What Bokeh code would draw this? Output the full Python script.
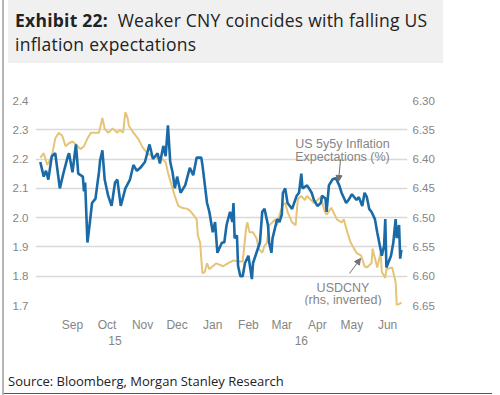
import pandas as pd
from bokeh.plotting import figure
from bokeh.layouts import column
from bokeh.models import (Range1d, LinearAxis, DatetimeAxis, FixedTicker, NumeralTickFormatter,
                          DatetimeTickFormatter, Label, Arrow, NormalHead, ColumnDataSource, Div)
from bokeh.embed import file_html
from bokeh.resources import INLINE

# ---------------- data ----------------
blue_dates = [
    "2015-08-18", "2015-08-21", "2015-08-23", "2015-08-25", "2015-08-28", "2015-08-31",
    "2015-09-04", "2015-09-07", "2015-09-11", "2015-09-12", "2015-09-15", "2015-09-18",
    "2015-09-20", "2015-09-24", "2015-09-25", "2015-09-26", "2015-09-28", "2015-09-30",
    "2015-10-02", "2015-10-05", "2015-10-08", "2015-10-09", "2015-10-11", "2015-10-13",
    "2015-10-16", "2015-10-19", "2015-10-22", "2015-10-24", "2015-10-27", "2015-10-31",
    "2015-11-04", "2015-11-07", "2015-11-10", "2015-11-13", "2015-11-17", "2015-11-21",
    "2015-11-24", "2015-11-28", "2015-11-30",
    "2015-12-03", "2015-12-05", "2015-12-07", "2015-12-09", "2015-12-11", "2015-12-13",
    "2015-12-15", "2015-12-18", "2015-12-22", "2015-12-26", "2015-12-29",
    "2016-01-01", "2016-01-05", "2016-01-06", "2016-01-10", "2016-01-12", "2016-01-15",
    "2016-01-17", "2016-01-19", "2016-01-23", "2016-01-25", "2016-01-27", "2016-01-30",
    "2016-02-01", "2016-02-02", "2016-02-03", "2016-02-05", "2016-02-06", "2016-02-08",
    "2016-02-10", "2016-02-12", "2016-02-15", "2016-02-18", "2016-02-19", "2016-02-22",
    "2016-02-25", "2016-02-27", "2016-02-29",
    "2016-03-03", "2016-03-04", "2016-03-06", "2016-03-07", "2016-03-11", "2016-03-13",
    "2016-03-15", "2016-03-16", "2016-03-18", "2016-03-20", "2016-03-24", "2016-03-28",
    "2016-03-30",
    "2016-04-01", "2016-04-02", "2016-04-06", "2016-04-10", "2016-04-12", "2016-04-15",
    "2016-04-18", "2016-04-19", "2016-04-22", "2016-04-23", "2016-04-25", "2016-04-28",
    "2016-05-01", "2016-05-04", "2016-05-06", "2016-05-10", "2016-05-12", "2016-05-15",
    "2016-05-19", "2016-05-21", "2016-05-24", "2016-05-26", "2016-05-28", "2016-05-30",
    "2016-06-01", "2016-06-04", "2016-06-06", "2016-06-08", "2016-06-10", "2016-06-12",
    "2016-06-13", "2016-06-14", "2016-06-18", "2016-06-20", "2016-06-22", "2016-06-23",
    "2016-06-25", "2016-06-26", "2016-06-27",
]
us5y5y = [
    2.19, 2.14, 2.16, 2.13, 2.21, 2.22,
    2.10, 2.15, 2.21, 2.22, 2.155, 2.25, 2.15, 2.14, 2.09, 2.12, 1.915, 1.98,
    2.05, 2.065, 2.155, 2.195, 2.23, 2.13, 2.075, 2.04, 2.12, 2.13, 2.04, 2.10,
    2.13, 2.18, 2.16, 2.17, 2.19, 2.25, 2.20, 2.22, 2.185,
    2.245, 2.21, 2.315, 2.19, 2.155, 2.10, 2.14, 2.085, 2.11, 2.17, 2.145,
    2.205, 2.205, 2.18, 2.05, 2.02, 1.95, 1.985, 1.88, 1.915, 1.915, 1.975, 2.02,
    1.985, 2.05, 1.93, 1.94, 1.835, 1.80, 1.80, 1.845, 1.87, 1.79, 1.845, 1.88, 1.915, 2.02, 2.03,
    1.975, 1.915, 1.88, 1.93, 1.995, 1.985, 2.01, 2.085, 2.10, 2.05, 2.03, 2.075, 2.085,
    2.15, 2.10, 2.11, 2.085, 2.06, 2.04, 2.05, 2.075, 2.065, 2.02, 2.11, 2.13,
    2.135, 2.11, 2.085, 2.05, 2.06, 2.08, 2.06, 2.07, 2.04, 2.085, 2.07, 2.03,
    2.02, 1.995, 1.95, 1.91, 1.87, 1.905, 1.995, 1.83, 1.87, 1.915, 1.995, 1.93, 1.975, 1.86, 1.89,
]

cny_dates = [
    "2015-08-18", "2015-08-21", "2015-08-24", "2015-08-28", "2015-08-31",
    "2015-09-03", "2015-09-06", "2015-09-09", "2015-09-12", "2015-09-15", "2015-09-18",
    "2015-09-22", "2015-09-25", "2015-09-28",
    "2015-10-01", "2015-10-05", "2015-10-08", "2015-10-11", "2015-10-13", "2015-10-16",
    "2015-10-20", "2015-10-24", "2015-10-26", "2015-10-29", "2015-10-31",
    "2015-11-02", "2015-11-03", "2015-11-07", "2015-11-11", "2015-11-15", "2015-11-19",
    "2015-11-23", "2015-11-28",
    "2015-12-02", "2015-12-05", "2015-12-07", "2015-12-11", "2015-12-13", "2015-12-16",
    "2015-12-19", "2015-12-24", "2015-12-26", "2015-12-29",
    "2016-01-01", "2016-01-02", "2016-01-04", "2016-01-05", "2016-01-06", "2016-01-08",
    "2016-01-10", "2016-01-12", "2016-01-15", "2016-01-18", "2016-01-24", "2016-01-28",
    "2016-02-02", "2016-02-06", "2016-02-10", "2016-02-13", "2016-02-14", "2016-02-16",
    "2016-02-19", "2016-02-22", "2016-02-24", "2016-02-27", "2016-02-29",
    "2016-03-02", "2016-03-04", "2016-03-07", "2016-03-09", "2016-03-11", "2016-03-13",
    "2016-03-16", "2016-03-18", "2016-03-20", "2016-03-24", "2016-03-27", "2016-03-29",
    "2016-04-01", "2016-04-04", "2016-04-06", "2016-04-12", "2016-04-15", "2016-04-18",
    "2016-04-21", "2016-04-23", "2016-04-27",
    "2016-05-02", "2016-05-06", "2016-05-08", "2016-05-11", "2016-05-14", "2016-05-17",
    "2016-05-19", "2016-05-23", "2016-05-26", "2016-05-28",
    "2016-06-01", "2016-06-02", "2016-06-06", "2016-06-09", "2016-06-10", "2016-06-13",
    "2016-06-14", "2016-06-19", "2016-06-22", "2016-06-23", "2016-06-27",
]
usdcny = [
    6.398, 6.390, 6.410, 6.395, 6.365,
    6.355, 6.360, 6.378, 6.373, 6.370, 6.375, 6.383, 6.378, 6.365,
    6.355, 6.355, 6.355, 6.330, 6.348, 6.355, 6.348, 6.355, 6.350, 6.355, 6.320,
    6.330, 6.343, 6.355, 6.365, 6.380, 6.390, 6.395, 6.398,
    6.400, 6.405, 6.423, 6.450, 6.463, 6.480, 6.483, 6.485, 6.488, 6.495,
    6.503, 6.530, 6.543, 6.570, 6.595, 6.593, 6.578, 6.588, 6.583, 6.578, 6.583, 6.578,
    6.573, 6.575, 6.575, 6.518, 6.508, 6.525, 6.525, 6.535, 6.553, 6.560, 6.548,
    6.543, 6.513, 6.508, 6.503, 6.513, 6.495, 6.478, 6.475, 6.490, 6.508, 6.513, 6.468,
    6.463, 6.470, 6.463, 6.475, 6.470, 6.465, 6.488, 6.495, 6.483,
    6.503, 6.508, 6.503, 6.525, 6.543, 6.553, 6.560, 6.565, 6.583, 6.585,
    6.578, 6.553, 6.585, 6.560, 6.593, 6.603, 6.588, 6.585, 6.610, 6.650, 6.645,
]

month_ticks = ["2015-09-15", "2015-10-15", "2015-11-15", "2015-12-15", "2016-01-15",
               "2016-02-15", "2016-03-15", "2016-04-15", "2016-05-15", "2016-06-15"]
year_label_dates = ["2015-10-22", "2016-04-01"]   # shown as "15" and "16"
left_ticks = [1.7, 1.8, 1.9, 2.0, 2.1, 2.2, 2.3, 2.4]
right_ticks = [6.30, 6.35, 6.40, 6.45, 6.50, 6.55, 6.60, 6.65]

title_bold = "Exhibit 22:"
title_rest = "Weaker CNY coincides with falling US"
title_line2 = "inflation expectations"
source_text = "Source: Bloomberg, Morgan Stanley Research"

# ---------------- figure ----------------
BLUE = "#1b6aa8"
GOLD = "#e5c477"
GRAY = "#858585"
AX_FONT = "Liberation Sans"


def ms(s):
    return pd.Timestamp(s).value / 1e6


p = figure(width=495, height=302, output_backend="svg", toolbar_location=None,
           x_axis_type="datetime",
           x_range=Range1d(ms("2015-08-13 20:00"), ms("2016-07-02 08:00")),
           y_range=Range1d(1.7, 2.4),
           min_border_left=31, min_border_right=92, min_border_top=37, min_border_bottom=60)
p.extra_y_ranges = {"cny": Range1d(6.65, 6.30)}
p.outline_line_color = None
p.background_fill_color = "white"
p.border_fill_color = "white"

src_b = ColumnDataSource(dict(x=pd.to_datetime(blue_dates), y=us5y5y))
src_g = ColumnDataSource(dict(x=pd.to_datetime(cny_dates), y=usdcny))
p.line("x", "y", source=src_g, color=GOLD, line_width=2, y_range_name="cny")
p.line("x", "y", source=src_b, color=BLUE, line_width=2.6)


def style_axis(ax, standoff, size="11.5px"):
    ax.axis_line_color = None
    ax.major_tick_line_color = None
    ax.minor_tick_line_color = None
    ax.major_tick_out = 0
    ax.major_tick_in = 0
    ax.major_label_text_font = AX_FONT
    ax.major_label_text_font_size = size
    ax.major_label_text_color = GRAY
    ax.major_label_standoff = standoff


ly = p.yaxis[0]
ly.ticker = FixedTicker(ticks=left_ticks)
ly.formatter = NumeralTickFormatter(format="0.0")
style_axis(ly, 7)

ry = LinearAxis(y_range_name="cny", ticker=FixedTicker(ticks=right_ticks),
                formatter=NumeralTickFormatter(format="0.00"))
style_axis(ry, 5)
p.add_layout(ry, "right")

xa = p.xaxis[0]
xa.ticker = FixedTicker(ticks=[ms(d) for d in month_ticks])
fmt_b = "%b"
xa.formatter = DatetimeTickFormatter(days=fmt_b, months=fmt_b, years=fmt_b, hours=fmt_b,
                                     hourmin=fmt_b, minutes=fmt_b)
style_axis(xa, 12, "12px")

ya = DatetimeAxis(ticker=FixedTicker(ticks=[ms(d) for d in year_label_dates]))
fmt_y = "%y"
ya.formatter = DatetimeTickFormatter(days=fmt_y, months=fmt_y, years=fmt_y, hours=fmt_y,
                                     hourmin=fmt_y, minutes=fmt_y)
style_axis(ya, 1, "12px")
p.add_layout(ya, "below")

p.xgrid.visible = False
p.ygrid.ticker = FixedTicker(ticks=left_ticks)
p.ygrid.grid_line_color = "#d9d9d9"
p.ygrid.grid_line_width = 1.6

# in-plot annotations (screen units relative to the plot frame)
for txt, x, y in [("US 5y5y Inflation", 307, 162), ("Expectations (%)", 307, 149),
                  ("USDCNY", 307.5, 17.5), ("(rhs, inverted)", 307.5, 5.5)]:
    p.add_layout(Label(x=x, y=y, x_units="screen", y_units="screen", text=txt,
                       text_align="center", text_baseline="alphabetic",
                       text_font=AX_FONT, text_font_size="12.5px", text_color=GRAY))

for xs, ys, xe, ye in [(305, 146, 303, 124), (314, 32, 325, 47)]:
    p.add_layout(Arrow(end=NormalHead(size=6, fill_color="#707070", line_color="#707070"),
                       x_start=xs, y_start=ys, x_end=xe, y_end=ye,
                       start_units="screen", end_units="screen",
                       line_color="#707070", line_width=1))

title_div = Div(
    text=('<div style="width:435px;height:63px;box-sizing:border-box;background:#f0f0f0;'
          'padding:8px 0 0 7px;font-family:\'Open Sans\';font-size:17.5px;line-height:24px;'
          'letter-spacing:0.25px;color:#222;white-space:nowrap;">'
          f'<b>{title_bold}</b>&nbsp; {title_rest}<br>{title_line2}</div>'),
    width=435, height=63, margin=(0, 0, 0, 4))

source_div = Div(
    text=('<div style="width:488px;height:29px;box-sizing:border-box;'
          'border-bottom:1.5px solid #555;padding:8px 0 0 4px;'
          'font-family:\'Open Sans\';font-size:13px;line-height:16px;color:#222;'
          f'white-space:nowrap;">{source_text}</div>'),
    width=488, height=30, margin=(0, 0, 0, 0))

layout = column(title_div, p, source_div, spacing=0,
                styles={"border-left": "2px solid #b5b5b5", "margin-left": "2px"})

open("out.html", "w").write(file_html(layout, INLINE))
